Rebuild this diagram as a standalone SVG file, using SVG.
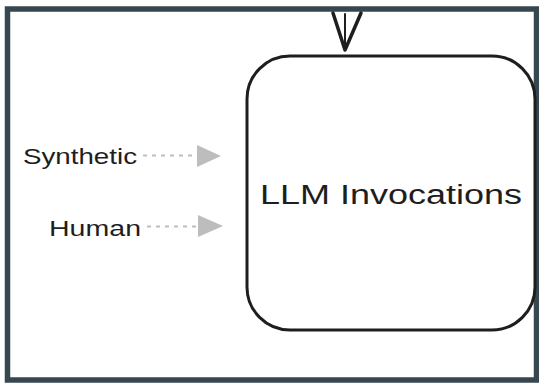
<svg xmlns="http://www.w3.org/2000/svg" width="539" height="383" viewBox="0 0 539 383">
<style>
.lbl{font-family:"Liberation Sans","Noto Sans",sans-serif;fill:#1e1e1e}
.dash{stroke:#bdbdbd;stroke-width:2;stroke-dasharray:4 5;fill:none}
.tri{fill:#bdbdbd}
</style>
<rect x="0" y="0" width="539" height="383" fill="#ffffff"/>
<rect id="frame" x="7.5" y="9" width="529" height="371" fill="none" stroke="#37474f" stroke-width="5.5"/>
<g id="connectors">
  <path d="M345 14 L345 50" fill="none" stroke="#1e1e1e" stroke-width="2" stroke-linecap="round"/>
  <path d="M333 13 L345 50 L361 13" fill="none" stroke="#1e1e1e" stroke-width="3.5" stroke-linecap="round" stroke-linejoin="round"/>
  <line class="dash" x1="143" y1="155.5" x2="195" y2="155.5"/>
  <polygon class="tri" points="197,145 221,156 197,167"/>
  <line class="dash" x1="147" y1="226.5" x2="196" y2="226.5"/>
  <polygon class="tri" points="198,215 223,226 198,237"/>
</g>
<g id="synthetic">
  <text class="lbl" x="23" y="164" font-size="22" textLength="114" lengthAdjust="spacingAndGlyphs">Synthetic</text>
</g>
<g id="human">
  <text class="lbl" x="49" y="236" font-size="22" textLength="92" lengthAdjust="spacingAndGlyphs">Human</text>
</g>
<g id="llm">
  <rect x="247" y="56" width="288" height="274" rx="43" ry="43" fill="#ffffff" stroke="#1e1e1e" stroke-width="3"/>
  <text class="lbl" x="391" y="204" font-size="27" text-anchor="middle" textLength="262" lengthAdjust="spacingAndGlyphs">LLM Invocations</text>
</g>
</svg>
